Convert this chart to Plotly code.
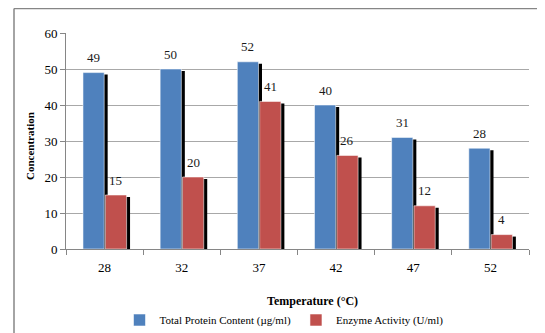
import plotly.graph_objects as go

categories = ["28", "32", "37", "42", "47", "52"]
protein = [49, 50, 52, 40, 31, 28]
enzyme = [15, 20, 41, 26, 12, 4]
series_names = ["Total Protein Content (µg/ml)", "Enzyme Activity (U/ml)"]
y_ticks = [0, 10, 20, 30, 40, 50, 60]

BLUE = "#4F81BD"
RED = "#C0504D"
GRAY = "#868686"
FONT = "Liberation Serif"

OFS = 8  # page body margin
W, H = 545 - OFS, 333 - OFS
L, R, T, B = 66 - OFS, 545 - 529, 33 - OFS, 333 - 249
PW, PH = W - L - R, H - T - B

BW = 0.275
OFF_BLUE = -0.28
OFF_RED = 0.01
SH_DX = 0.045   # shadow shift in category units
SH_DY = 0.55    # shadow drop in data units

fig = go.Figure()

# shadows
for vals, off in [(protein, OFF_BLUE), (enzyme, OFF_RED)]:
    fig.add_trace(go.Bar(
        x=categories, y=list(vals), base=[-SH_DY] * len(vals),
        offset=off + SH_DX, width=BW, marker=dict(color="black", line=dict(width=0)),
        showlegend=False, hoverinfo="skip"))

# bars
for vals, off, col, name in [(protein, OFF_BLUE, BLUE, series_names[0]),
                             (enzyme, OFF_RED, RED, series_names[1])]:
    fig.add_trace(go.Bar(
        x=categories, y=vals, offset=off, width=BW, name=name,
        marker=dict(color=col, line=dict(color="rgba(255,255,255,0.55)", width=1))))

annotations = []
for vals, off in [(protein, OFF_BLUE), (enzyme, OFF_RED)]:
    for i, v in enumerate(vals):
        annotations.append(dict(
            x=i + off + BW / 2, y=v, xref="x", yref="y", text=str(v),
            showarrow=False, xanchor="center", yanchor="middle", yshift=15,
            font=dict(family=FONT, size=13, color="#1a1a1a")))

def px_x(px):
    return (px - OFS - L) / PW

def px_y(py):
    return (H - B - (py - OFS)) / PH

annotations.append(dict(
    x=px_x(312), y=px_y(301), xref="paper", yref="paper",
    text="<b>Temperature (°C)</b>", showarrow=False, xanchor="center", yanchor="middle",
    font=dict(family=FONT, size=12, color="black")))
annotations.append(dict(
    x=px_x(30), y=px_y(146), xref="paper", yref="paper",
    text="<b>Concentration</b>", showarrow=False, textangle=-90,
    xanchor="center", yanchor="middle",
    font=dict(family=FONT, size=11, color="black")))

shapes = [
    dict(type="line", xref="paper", yref="paper", x0=px_x(14), x1=px_x(14),
         y0=px_y(8.5), y1=px_y(340), line=dict(color=GRAY, width=1.5)),
    dict(type="line", xref="paper", yref="paper", x0=px_x(14), x1=px_x(550),
         y0=px_y(8.5), y1=px_y(8.5), line=dict(color=GRAY, width=1.5)),
]

fig.update_layout(
    width=W, height=H, margin=dict(l=L, r=R, t=T, b=B, autoexpand=False),
    barmode="overlay", plot_bgcolor="white", paper_bgcolor="white",
    font=dict(family=FONT, size=12, color="black"),
    annotations=annotations, shapes=shapes,
    legend=dict(orientation="h", xref="container", yref="container",
                x=(284 - OFS) / W, xanchor="center", y=(H - (320 - OFS)) / H, yanchor="middle",
                font=dict(family=FONT, size=11), itemwidth=30, bgcolor="rgba(0,0,0,0)"),
    xaxis=dict(type="category", showline=True, linecolor=GRAY, linewidth=1,
               ticks="outside", ticklen=5, tickcolor=GRAY, tickson="boundaries",
               showgrid=False, range=[-0.5, 5.5], ticklabelstandoff=6,
               tickfont=dict(family=FONT, size=13), automargin=False),
    yaxis=dict(range=[0, 60], tickvals=y_ticks, showline=True, linecolor=GRAY, linewidth=1,
               ticks="outside", ticklen=5, tickcolor=GRAY, gridcolor="#A8A8A8", gridwidth=1,
               zeroline=False, tickfont=dict(family=FONT, size=13), automargin=False),
)

fig.write_html("out.html")
